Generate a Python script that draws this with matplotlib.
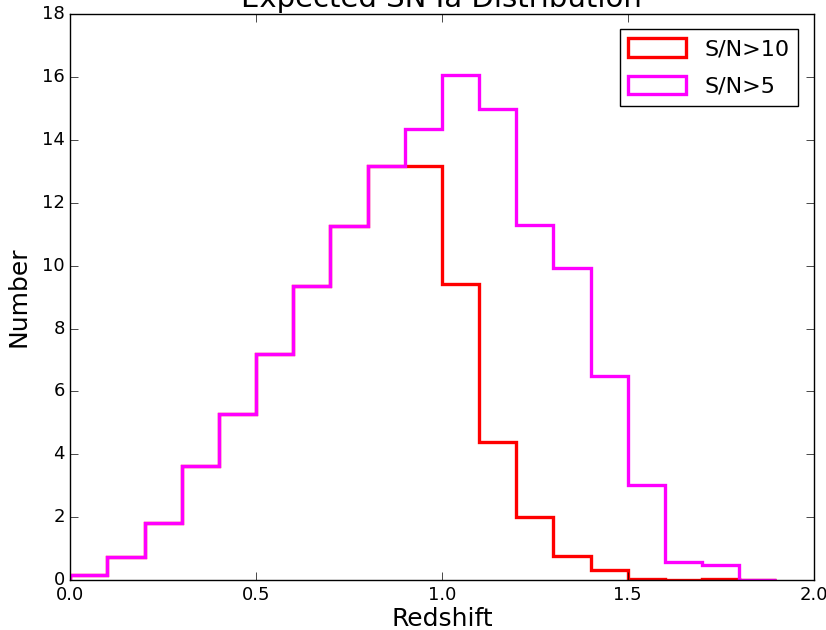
import numpy as np
import matplotlib
matplotlib.use('Agg')
import matplotlib.pyplot as plt

# redshift bins and counts
bin_edges = [0.0, 0.1, 0.2, 0.3, 0.4, 0.5, 0.6, 0.7, 0.8, 0.9, 1.0,
             1.1, 1.2, 1.3, 1.4, 1.5, 1.6, 1.7, 1.8, 1.9]
sn5 = [0.16, 0.73, 1.81, 3.63, 5.28, 7.19, 9.35, 11.26, 13.17, 14.34,
       16.06, 14.98, 11.29, 9.92, 6.49, 3.02, 0.57, 0.48, 0.02]
sn10 = [0.16, 0.73, 1.81, 3.63, 5.28, 7.19, 9.35, 11.26, 13.15, 13.15,
        9.41, 4.39, 2.00, 0.76, 0.32, 0.05, 0.02, 0.04, 0.0]

plt.style.use('classic')

fig = plt.figure(figsize=(8.26, 6.3), dpi=100)
fig.patch.set_facecolor('white')
fig.subplots_adjust(left=0.085, right=0.985, top=0.978, bottom=0.079)
ax = fig.add_subplot(111)

centers = [(bin_edges[i] + bin_edges[i+1]) / 2. for i in range(len(sn5))]
ax.hist(centers, bins=bin_edges, weights=sn10, histtype='step',
        color='red', linewidth=2.4, label='S/N>10')
ax.hist(centers, bins=bin_edges, weights=sn5, histtype='step',
        color='magenta', linewidth=2.4, label='S/N>5')

ax.set_xlim(0, 2.0)
ax.set_ylim(0, 18)
ax.set_xticks([0.0, 0.5, 1.0, 1.5, 2.0])
ax.set_yticks(range(0, 19, 2))
ax.tick_params(labelsize=13, direction='in', length=6, pad=4)
ax.set_xlabel('Redshift', fontsize=18, labelpad=2)
ax.set_ylabel('Number', fontsize=18, labelpad=8)
ax.set_title('Expected SN Ia Distribution', fontsize=21)

lg = ax.legend(loc='upper right', fontsize=16, fancybox=False,
               handlelength=2.6, handleheight=0.9, labelspacing=0.75,
               borderaxespad=0.7)
lg.get_frame().set_linewidth(1.0)

fig.savefig('out.png', dpi=100, facecolor='white')
